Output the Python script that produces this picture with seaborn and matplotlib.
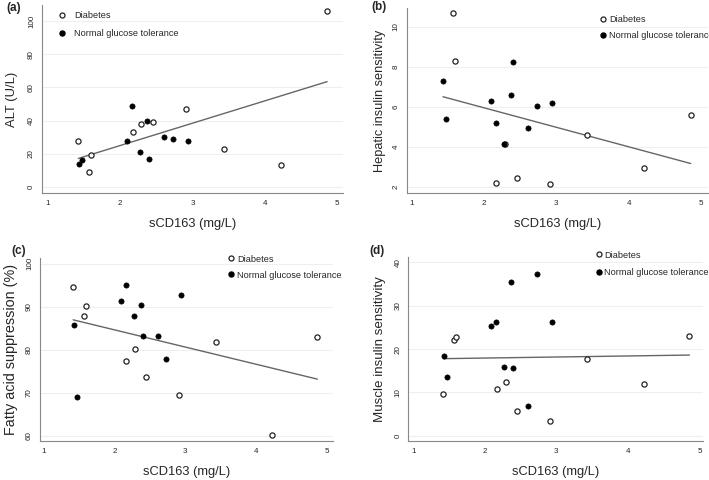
import numpy as np
import pandas as pd
import matplotlib
matplotlib.use("Agg")
import matplotlib.pyplot as plt
from matplotlib.lines import Line2D
import seaborn as sns


# sCD163 values for each subject
x_diabetes = [1.42, 1.57, 1.60, 2.17, 2.29, 2.45, 2.91, 3.43, 4.22, 4.86]
x_ngt = [1.43, 1.47, 2.09, 2.16, 2.27, 2.37, 2.40, 2.61, 2.73, 2.94]

alt_diabetes = [28, 9, 19, 33, 38, 39, 47, 23, 13, 106]
alt_ngt = [14, 16, 28, 49, 21, 40, 17, 30, 29, 28]

hepatic_diabetes = [np.nan, 10.7, 8.3, 2.2, 4.17, 2.43, 2.13, 4.62, 2.97, 5.62]
hepatic_ngt = [7.28, 5.4, 6.28, 5.2, 4.13, 6.58, 8.27, 4.97, 6.07, 6.18]

fa_diabetes = [94.5, 87.8, 90.2, 77.4, 80.2, 73.7, 69.5, 81.9, 60.1, 83.0]
fa_ngt = [85.8, 69.0, 91.2, 95.1, 87.8, 90.3, 83.3, 83.3, 77.9, 92.8]

muscle_diabetes = [9.6, 22.2, 22.8, 10.8, 12.4, 5.8, 3.5, 17.8, 11.9, 22.9]
muscle_ngt = [18.4, 13.5, 25.4, 26.2, 15.8, 35.5, 15.7, 6.9, 37.4, 26.3]

group_labels = ["Diabetes", "Normal glucose tolerance"]


def build_df():
    n_d, n_n = len(x_diabetes), len(x_ngt)
    df = pd.DataFrame({
        "sCD163": x_diabetes + x_ngt,
        "group": [group_labels[0]] * n_d + [group_labels[1]] * n_n,
        "ALT": alt_diabetes + alt_ngt,
        "hepatic": hepatic_diabetes + hepatic_ngt,
        "fa": fa_diabetes + fa_ngt,
        "muscle": muscle_diabetes + muscle_ngt,
    })
    return df


def draw_panel(fig, rect, df, col, ylabel, ylab_size, ylab_pad, yticks, xlim,
               ylim, letter, letter_xy, legend_anchor, text_pad, spacing):
    ax = fig.add_axes(rect)
    sub = df.dropna(subset=[col])

    # light horizontal grid like stata
    for yt in yticks:
        ax.axhline(yt, color="#efefef", lw=0.8, zorder=0)

    sns.regplot(data=sub, x="sCD163", y=col, ax=ax, scatter=False, ci=None,
                truncate=True, line_kws={"color": "#666666", "lw": 1.0})

    d = sub[sub["group"] == group_labels[0]]
    n = sub[sub["group"] == group_labels[1]]
    sns.scatterplot(data=d, x="sCD163", y=col, ax=ax, s=14, marker="o",
                    facecolor="white", edgecolor="#222222", linewidth=0.9,
                    zorder=3)
    sns.scatterplot(data=n, x="sCD163", y=col, ax=ax, s=14, marker="o",
                    color="black", edgecolor="black", linewidth=0.5, zorder=3)

    ax.set_xlim(*xlim)
    ax.set_ylim(*ylim)
    ax.set_xticks([1, 2, 3, 4, 5])
    ax.set_yticks(yticks)
    ax.set_xlabel("sCD163 (mg/L)", fontsize=9.3, labelpad=8)
    ax.set_ylabel(ylabel, fontsize=ylab_size, labelpad=ylab_pad)
    ax.tick_params(axis="both", direction="out", length=2.5, width=0.7,
                   color="#777777", labelsize=5.8, pad=2.5)
    ax.tick_params(axis="y", labelrotation=90)
    for lab in ax.get_yticklabels():
        lab.set_va("center")

    sns.despine(ax=ax)
    for side in ["left", "bottom"]:
        ax.spines[side].set_color("#888888")
        ax.spines[side].set_linewidth(0.8)

    handles = [
        Line2D([], [], ls="none", marker="o", ms=3.6, mfc="white",
               mec="#222222", mew=0.9),
        Line2D([], [], ls="none", marker="o", ms=3.6, mfc="black",
               mec="black"),
    ]
    ax.legend(handles, group_labels, loc="upper left",
              bbox_to_anchor=legend_anchor, frameon=False, fontsize=6.6,
              handlelength=0.8, handletextpad=text_pad, labelspacing=spacing,
              borderpad=0, borderaxespad=0)

    fig.text(letter_xy[0], letter_xy[1], letter, fontsize=8.5,
             fontweight="bold", ha="left", va="center")
    return ax


def main():
    sns.set_style("white")
    plt.rcParams["font.family"] = ["Liberation Sans", "DejaVu Sans"]
    df = build_df()

    W, H = 709, 480
    fig = plt.figure(figsize=(W / 100, H / 100), dpi=100)

    draw_panel(fig, [42 / W, 1 - 193 / H, 301 / W, 188 / H], df, "ALT",
               "ALT (U/L)", 9.4, 7.5, [0, 20, 40, 60, 80, 100],
               (0.917, 5.08), (-3.6, 109.7), "(a)", (6 / W, 1 - 8 / H),
               (0.055, 0.968), 0.9, 0.95)
    draw_panel(fig, [406.7 / W, 1 - 193 / H, 301.3 / W, 185 / H], df,
               "hepatic", "Hepatic insulin sensitivity", 9.2, 5,
               [2, 4, 6, 8, 10], (0.927, 5.1), (1.7, 10.95), "(b)",
               (371 / W, 1 - 7 / H), (0.64, 0.96), 0.25, 0.75)
    draw_panel(fig, [40 / W, 1 - 441 / H, 293 / W, 183 / H], df, "fa",
               "Fatty acid suppression (%)", 10.4, 5.5,
               [60, 70, 80, 90, 100], (0.953, 5.08), (58.8, 101.3), "(c)",
               (11 / W, 1 - 251 / H), (0.64, 1.018), 0.25, 0.75)
    draw_panel(fig, [408.3 / W, 1 - 441 / H, 294.7 / W, 184.3 / H], df,
               "muscle", "Muscle insulin sensitivity", 9.6, 6,
               [0, 10, 20, 30, 40], (0.93, 5.05), (-1.2, 41.3), "(d)",
               (369 / W, 1 - 251 / H), (0.633, 1.033), 0.22, 0.95)

    fig.savefig("out.png", dpi=100)


if __name__ == "__main__":
    main()
